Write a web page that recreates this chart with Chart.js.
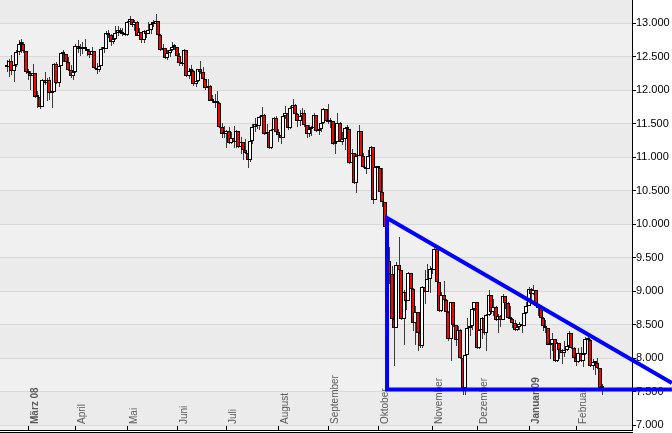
<!DOCTYPE html>
<html><head><meta charset="utf-8">
<script src="https://cdn.jsdelivr.net/npm/chart.js@4.4.1/dist/chart.umd.min.js"></script>
<style>html,body{margin:0;padding:0;background:#fff}canvas{display:block}</style>
</head><body>
<canvas id="c" width="672" height="433"></canvas>
<script>
// Daily candles, 19 Feb 2008 .. 18 Feb 2009 (index = trading day)
const openP = [
12348,12337,12427,12284,12381,12570,12684,12694,12582,
12266,12258,12213,12254,11893,11894,11740,12156,12111,12145,11951,11972,12392,12099,12361,12548,12532,12422,12302,12216,
12263,12654,12608,12626,12610,12612,12577,12527,12581,12325,12302,12362,12619,12620,12849,12825,12720,12763,12848,12891,12871,12832,
12820,13010,13058,12969,13020,12814,12866,12745,12876,12832,12898,12992,12986,13028,12828,12601,12625,12479,12548,12594,12646,
12638,12503,12402,12391,12604,12210,12280,12289,12084,12141,12307,12269,12160,12029,12063,11843,11842,11807,11811,11453,11346,
11350,11382,11215,11288,11231,11384,11147,11229,11100,11055,10962,11239,11446,11496,11467,11602,11632,11349,11370,11131,11397,11583,
11378,11326,11284,11615,11656,11432,11734,11782,11642,11532,11615,11659,11479,11348,11417,11430,11628,11386,11413,11502,11715,
11543,11516,11532,11188,11220,11510,11231,11268,11433,11421,10917,11059,10609,11019,11388,11015,10854,10825,11022,11143,10365,
10851,10831,10482,10325,9955,9447,9258,8579,8451,9387,9310,8577,8979,8852,9265,9033,8519,8691,8378,8175,9065,8990,9180,
9325,9319,9625,9139,8695,8943,8870,8693,8282,8835,8497,8273,8424,7997,7552,8046,8443,8479,8727,
8829,8149,8419,8591,8376,8635,8934,8691,8761,8565,8629,8564,8924,8824,8604,8579,8519,8419,8468,8515,8483,8668,
8776,9034,8952,9015,8769,8742,8599,8474,8448,8200,8212,8281,7949,8228,8123,8077,8116,8175,8375,8149,
8000,7936,8078,7956,8063,8280,8270,7888,7939,7932,7850,7552];
const highP = [
12450,12460,12520,12400,12600,12740,12760,12720,12590,
12310,12280,12390,12260,11990,11930,12160,12270,12180,12200,12050,12400,12420,12380,12560,12600,12540,12500,12370,12340,
12680,12740,12680,12710,12760,12620,12610,12640,12580,12400,12420,12640,12690,12880,12900,12830,12800,12960,12960,12930,12920,13010,
13030,13110,13060,13040,13030,12920,12870,12890,12900,13020,13000,13040,13140,13030,12830,12680,12630,12600,12640,12720,12690,
12640,12560,12520,12610,12600,12330,12380,12300,12280,12320,12430,12350,12170,12170,12070,11920,11940,11990,11820,11510,11460,
11400,11450,11370,11460,11410,11390,11300,11230,11270,11060,11260,11490,11580,11580,11620,11750,11640,11490,11380,11420,11600,11620,
11420,11350,11630,11760,11660,11760,11870,11790,11660,11700,11730,11700,11480,11480,11460,11660,11630,11480,11540,11730,11720,
11790,11580,11540,11240,11660,11520,11380,11450,11480,11420,11120,11060,11040,11480,11390,11060,10920,11110,11160,11150,10860,
10860,10830,10840,10330,10000,9650,9380,8900,9430,9800,9310,9010,9270,9280,9270,9040,8780,8690,8570,9070,9320,9400,9380,
9390,9660,9630,9140,8990,9150,8880,8700,8840,8840,8500,8480,8430,8000,8060,8600,8630,8740,8840,
8830,8430,8610,8600,8650,9020,8940,8880,8780,8650,8640,8950,8930,8830,8770,8590,8560,8480,8540,8520,8680,8830,
9060,9040,9090,9020,8790,8760,8610,8560,8450,8260,8380,8280,8240,8230,8130,8250,8260,8400,8380,8170,
8010,8150,8170,8110,8310,8340,8280,7990,7950,8000,7850,7610];
const lowP = [
12270,12200,12230,12120,12340,12530,12560,12550,12240,
12150,12000,12180,11880,11730,11720,11740,12080,11830,11850,11730,11970,12090,12040,12360,12420,12370,12290,12180,12150,
12260,12560,12510,12540,12590,12510,12480,12450,12310,12240,12270,12360,12550,12620,12780,12660,12680,12750,12800,12830,12800,12800,
12810,12990,12940,12880,12800,12790,12700,12700,12770,12830,12840,12940,12960,12770,12590,12560,12460,12450,12500,12580,12600,
12400,12360,12360,12370,12200,12160,12200,12060,12050,12120,12240,12140,12000,11930,11830,11800,11730,11780,11440,11290,11290,
11130,11200,11190,11140,11130,11140,11050,10960,11040,10830,10930,11190,11380,11420,11400,11590,11330,11280,11120,11120,11380,11370,
11230,11200,11280,11570,11410,11420,11700,11620,11450,11460,11580,11450,11290,11300,11310,11420,11370,11330,11380,11500,11530,
11490,11440,11180,11040,11220,11220,11180,11110,11280,10900,10740,10600,10460,11020,11000,10830,10740,10820,10850,10300,10360,
10600,10460,10260,9530,9440,9100,8570,7880,8450,9210,8570,8200,8720,8850,8990,8400,8200,8110,8150,8150,8800,8990,8970,
9260,9310,9120,8680,8690,8750,8570,8260,7960,8460,8180,8150,7980,7450,7450,8040,8330,8420,8700,
8140,8140,8280,8340,8100,8630,8660,8620,8550,8380,8470,8560,8730,8580,8520,8450,8410,8400,8420,8380,8480,8660,
8770,8850,8940,8750,8620,8580,8400,8370,8190,7990,8110,7940,7940,7980,7910,8020,8100,8170,8130,7990,
7880,7930,7940,7860,8050,8200,7860,7820,7740,7830,7540,7450];
const closeP = [
12337,12427,12284,12381,12570,12684,12694,12582,12266,
12258,12213,12254,11893,11894,11740,12156,12111,12145,11951,11972,12392,12099,12361,12548,12532,12422,12302,12216,12263,
12654,12608,12626,12610,12612,12577,12527,12581,12325,12302,12362,12619,12620,12849,12825,12720,12763,12848,12891,12871,12832,12820,
13010,13058,12969,13020,12814,12866,12745,12876,12832,12898,12992,12986,13028,12828,12601,12625,12479,12548,12594,12646,12638,
12503,12402,12391,12604,12210,12280,12289,12084,12141,12307,12269,12160,12029,12063,11843,11842,11807,11811,11453,11346,11350,
11382,11215,11288,11231,11384,11147,11229,11100,11055,10962,11239,11446,11496,11467,11602,11632,11349,11370,11131,11397,11583,11378,
11326,11284,11615,11656,11432,11734,11782,11642,11532,11615,11659,11479,11348,11417,11430,11628,11386,11413,11502,11715,11543,
11516,11532,11188,11220,11510,11231,11268,11433,11421,10917,11059,10609,11019,11388,11015,10854,10825,11022,11143,10365,10851,
10831,10482,10325,9955,9447,9258,8579,8451,9387,9310,8577,8979,8852,9265,9033,8519,8691,8378,8175,9065,8990,9180,9325,
9319,9625,9139,8695,8943,8870,8693,8282,8835,8497,8273,8424,7997,7552,8046,8443,8479,8727,8829,
8149,8419,8591,8376,8635,8934,8691,8761,8565,8629,8564,8924,8824,8604,8579,8519,8419,8468,8515,8483,8668,8776,
9034,8952,9015,8769,8742,8599,8474,8448,8200,8212,8281,7949,8228,8123,8077,8116,8175,8375,8149,8000,
7936,8078,7956,8063,8280,8270,7888,7939,7932,7850,7552,7555];

// month ticks: index of first trading day of each month
const monthIdx = [9,29,51,72,93,115,136,157,180,199,221,241];
const monthLabels = ['März 08','April','Mai','Juni','Juli','August','September','Oktober','November','Dezember','Januar 09','Februar'];
const monthBold = [true,false,false,false,false,false,false,false,false,false,true,false];

const yTicks = [7000,7500,8000,8500,9000,9500,10000,10500,11000,11500,12000,12500,13000];

// hand-drawn triangle (x = trading-day index, y = index level)
const triX = [281.6,161,161,281.6];
const triY = [7531,7531,10089,7625];

const fmt = v => String(v).replace(/\B(?=(\d{3})+(?!\d))/g,'.');

const deco = {
  id:'deco',
  beforeDraw(chart){
    const {ctx, chartArea:a, scales:{y}} = chart;
    ctx.save();
    ctx.fillStyle = '#ffffff';
    ctx.fillRect(0,0,chart.width,chart.height);
    const edges = [y.min, ...yTicks, y.max];
    for (let k=0;k<edges.length-1;k++){
      const v0=edges[k], v1=edges[k+1];
      const band = Math.floor(((v0+v1)/2 - 7000)/500);
      ctx.fillStyle = (((band%2)+2)%2===0) ? '#ebebeb' : '#f0f0f0';
      const p0 = y.getPixelForValue(v1), p1 = y.getPixelForValue(v0);
      ctx.fillRect(a.left, p0, a.right-a.left, p1-p0);
    }
    ctx.restore();
  },
  beforeDatasetsDraw(chart){
    const {ctx, chartArea:a, scales:{x}} = chart;
    // snap candle elements (positioned by the scales) to whole pixels
    chart.getDatasetMeta(1).data.forEach(el=>{ el.x=Math.round(el.x); el.y=Math.round(el.y); el.base=Math.round(el.base); });
    chart.getDatasetMeta(2).data.forEach(el=>{ el.x=Math.round(el.x)+0.5; el.y=Math.round(el.y); el.base=Math.round(el.base); });
    ctx.save();
    ctx.fillStyle = '#000';
    ctx.fillRect(a.left, a.bottom, a.right-a.left+1, 1);
    ctx.fillRect(a.left, a.bottom+2, a.right-a.left+1, 1);
    monthIdx.forEach((m,i)=>{
      const px = Math.round(x.getPixelForValue(m));
      ctx.fillStyle = '#000';
      ctx.fillRect(px, a.bottom-4, 1, 4);
      ctx.save();
      ctx.translate(px+9.5, a.bottom-6);
      ctx.rotate(-Math.PI/2);
      ctx.font = (monthBold[i]?'bold ':'') + '10px "Liberation Sans", Arial, sans-serif';
      ctx.fillStyle = '#5a5a5a';
      ctx.textAlign = 'left';
      ctx.textBaseline = 'alphabetic';
      ctx.fillText(monthLabels[i], 0, 0);
      ctx.restore();
    });
    ctx.restore();
  }
};

new Chart(document.getElementById('c'), {
  type:'bar',
  data:{ datasets:[
    { type:'line', data: triX.map((x,i)=>({x, y:triY[i]})), borderColor:'#0000ff', backgroundColor:'#0000ff',
      borderWidth:4, pointRadius:0, clip:false, order:0, borderJoinStyle:'miter', tension:0, fill:false },
    { type:'bar', data: closeP.map((c,i)=>({x:i, y:[openP[i], c]})),
      backgroundColor: ctx => closeP[ctx.dataIndex] < openP[ctx.dataIndex] ? '#ff0000' : '#ffffff',
      borderColor:'#000000', borderWidth:1, borderSkipped:false, barThickness:4, grouped:false,
      order:1, inflateAmount:0, minBarLength:2 },
    { type:'bar', data: highP.map((h,i)=>({x:i, y:[lowP[i], h]})),
      backgroundColor:'#3c3c3c', borderWidth:0, barThickness:1, grouped:false, order:2, inflateAmount:0 }
  ]},
  options:{
    responsive:false, animation:false, devicePixelRatio:1,
    layout:{padding:{top:0,left:0,right:0,bottom:3}},
    plugins:{legend:{display:false}, tooltip:{enabled:false}},
    scales:{
      x:{ type:'linear', display:false, offset:false, min:-2.854, max:264.70, grid:{offset:false} },
      y:{ type:'linear', position:'right', beginAtZero:false, min:6925.4, max:13343.3,
        afterBuildTicks: s => { s.ticks = yTicks.map(v=>({value:v})); },
        afterFit: s => { s.width = 40; },
        grid:{ color:'#d9d9d9', lineWidth:1, drawTicks:true, tickLength:4, tickColor:'#000000' },
        border:{ display:true, color:'#000000', width:1 },
        ticks:{ padding:0, color:'#000000', autoSkip:false,
          font:{ family:'"Liberation Sans", Arial, sans-serif', size:11, lineHeight:0.01 },
          callback: v => fmt(v) }
      }
    }
  },
  plugins:[deco]
});
</script>
</body></html>
